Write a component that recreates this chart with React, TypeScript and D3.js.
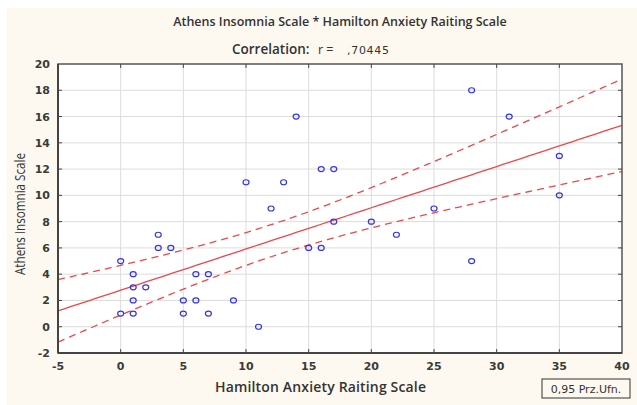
import React from "react";
import * as d3 from "d3";

// Hamilton Anxiety Raiting Scale (x) vs Athens Insomnia Scale (y)
const hamilton = [0, 0, 1, 1, 1, 1, 2, 3, 3, 4, 5, 5, 6, 6, 7, 7, 9, 11, 10, 12, 13, 14, 15, 16, 16, 17, 17, 20, 22, 25, 28, 28, 31, 35, 35];
const athens = [5, 1, 4, 3, 2, 1, 3, 7, 6, 6, 2, 1, 4, 2, 4, 1, 2, 0, 11, 9, 11, 16, 6, 6, 12, 12, 8, 8, 7, 9, 18, 5, 16, 13, 10];

const xTicks = [-5, 0, 5, 10, 15, 20, 25, 30, 35, 40];
const yTicks = [-2, 0, 2, 4, 6, 8, 10, 12, 14, 16, 18, 20];

const W = 637;
const H = 405;
const left = 58, right = 622, top = 64, bottom = 353;

// simple linear fit + 95% band for the mean
function fitLine(xs: number[], ys: number[]) {
  const n = xs.length;
  const mx = d3.mean(xs)!;
  const my = d3.mean(ys)!;
  const sxx = d3.sum(xs, (x) => (x - mx) * (x - mx));
  const sxy = d3.sum(xs, (x, i) => (x - mx) * (ys[i] - my));
  const b = sxy / sxx;
  const a = my - b * mx;
  const sse = d3.sum(xs, (x, i) => Math.pow(ys[i] - (a + b * x), 2));
  const s = Math.sqrt(sse / (n - 2));
  const t = 2.035;
  const band = (x: number) => t * s * Math.sqrt(1 / n + ((x - mx) * (x - mx)) / sxx);
  return { a, b, band };
}

export default function App() {
  const x = d3.scaleLinear().domain([-5, 40]).range([left, right]);
  const y = d3.scaleLinear().domain([-2, 20]).range([bottom, top]);

  const { a, b, band } = fitLine(hamilton, athens);
  const xs = d3.range(-5, 40.01, 0.5);
  const line = d3.line<number>().x((d) => x(d)).y((d) => y(a + b * d));
  const upper = d3.line<number>().x((d) => x(d)).y((d) => y(a + b * d + band(d)));
  const lower = d3.line<number>().x((d) => x(d)).y((d) => y(a + b * d - band(d)));

  const tickFont = "'DejaVu Sans', Verdana, sans-serif";
  const labelFont = "'Open Sans', 'Noto Sans', sans-serif";

  return (
    <div style={{ position: "absolute", left: 0, top: 0 }}>
      <svg width={W} height={H} style={{ display: "block" }}>
        <rect x={0} y={0} width={W} height={H} fill="#fff" />
        <rect x={7} y={8} width={W - 7} height={H - 8} fill="#fdf9f0" />

        <text x={340} y={26} textAnchor="middle" fontFamily={labelFont} fontSize={12.5} fontWeight={600} fill="#333">
          Athens Insomnia Scale * Hamilton Anxiety Raiting Scale
        </text>
        <text x={232} y={54} fontFamily={labelFont} fontSize={13.5} fontWeight={600} fill="#333">
          Correlation:
        </text>
        <text x={318} y={54} fontFamily={labelFont} fontSize={12.5} fontWeight={400} fill="#333">
          r =
        </text>
        <text x={347} y={54} fontFamily={tickFont} fontSize={11} fill="#333" letterSpacing={0.7}>
          ,70445
        </text>

        <rect x={left} y={top} width={right - left} height={bottom - top} fill="#fff" />

        {/* grid */}
        {xTicks.slice(1, -1).map((t) => (
          <line key={"gx" + t} x1={x(t)} x2={x(t)} y1={top} y2={bottom} stroke="#dcdcdc" strokeWidth={1} />
        ))}
        {yTicks.slice(1, -1).map((t) => (
          <line key={"gy" + t} x1={left} x2={right} y1={y(t)} y2={y(t)} stroke="#dcdcdc" strokeWidth={1} />
        ))}

        {/* fit + band */}
        <path d={upper(xs)!} fill="none" stroke="#f0464b" strokeWidth={1.3} strokeDasharray="7,5" />
        <path d={lower(xs)!} fill="none" stroke="#f0464b" strokeWidth={1.3} strokeDasharray="7,5" />
        <path d={line(xs)!} fill="none" stroke="#f0464b" strokeWidth={1.3} />

        {/* points */}
        {hamilton.map((h, i) => (
          <ellipse key={i} cx={x(h)} cy={y(athens[i])} rx={3} ry={2.5} fill="none" stroke="#3535e8" strokeWidth={1.2} />
        ))}

        {/* frame + ticks */}
        <rect x={left} y={top} width={right - left} height={bottom - top} fill="none" stroke="#555" strokeWidth={1.5} />
        <line x1={left} x2={left} y1={top} y2={bottom} stroke="#444" strokeWidth={2} />
        <line x1={left} x2={right} y1={bottom} y2={bottom} stroke="#444" strokeWidth={2} />
        {xTicks.slice(1, -1).map((t) => (
          <g key={"tx" + t}>
            <line x1={x(t)} x2={x(t)} y1={top} y2={top + 4} stroke="#444" />
            <line x1={x(t)} x2={x(t)} y1={bottom} y2={bottom - 4} stroke="#444" />
          </g>
        ))}
        {yTicks.slice(1, -1).map((t) => (
          <g key={"ty" + t}>
            <line x1={left} x2={left + 4} y1={y(t)} y2={y(t)} stroke="#444" />
            <line x1={right} x2={right - 4} y1={y(t)} y2={y(t)} stroke="#444" />
          </g>
        ))}

        {/* tick labels */}
        {xTicks.map((t) => (
          <text key={"lx" + t} x={x(t)} y={bottom + 17} textAnchor="middle" fontFamily={tickFont} fontSize={11} fontWeight="bold" fill="#3a3a3a">
            {t}
          </text>
        ))}
        {yTicks.map((t) => (
          <text key={"ly" + t} x={left - 8} y={y(t) + 4} textAnchor="end" fontFamily={tickFont} fontSize={11} fontWeight="bold" fill="#3a3a3a">
            {t}
          </text>
        ))}

        {/* axis titles */}
        <text x={215} y={392} fontFamily={labelFont} fontSize={14} fontWeight={600} fill="#333" textLength={211}>
          Hamilton Anxiety Raiting Scale
        </text>
        <text transform="translate(25,275) rotate(-90)" fontFamily={labelFont} fontSize={14} fontWeight={400} fill="#333" textLength={122} lengthAdjust="spacingAndGlyphs">
          Athens Insomnia Scale
        </text>

        {/* legend */}
        <rect x={542} y={379} width={88} height={19} fill="none" stroke="#333" strokeWidth={1} />
        <text x={586} y={393} textAnchor="middle" fontFamily={tickFont} fontSize={11} fill="#333">
          0,95 Prz.Ufn.
        </text>
      </svg>
    </div>
  );
}
